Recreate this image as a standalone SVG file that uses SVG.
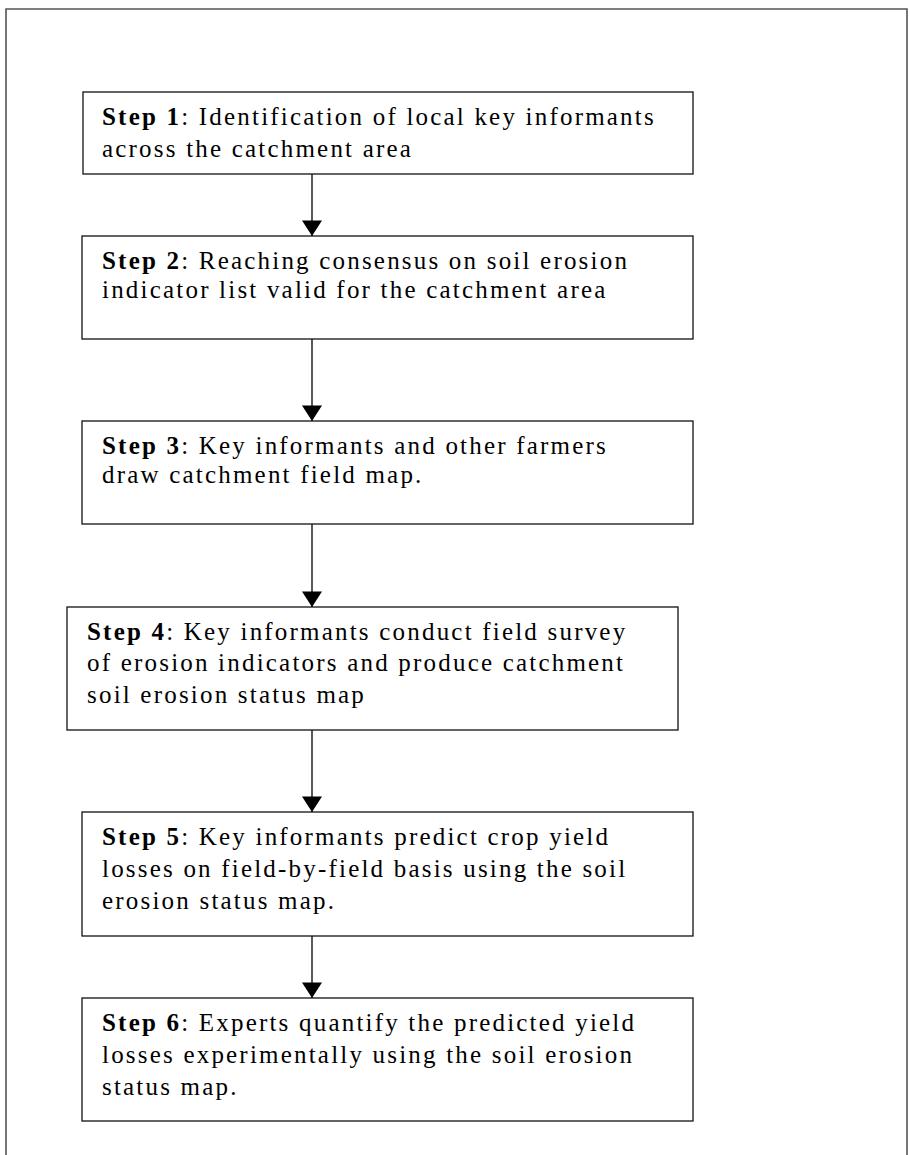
<svg xmlns="http://www.w3.org/2000/svg" width="910" height="1155" viewBox="0 0 910 1155">
<style>
.box{fill:#fff;stroke:#111;stroke-width:1.3}
.frame{fill:none;stroke:#555;stroke-width:1.6}
.t{font-family:"Liberation Serif","Times New Roman",serif;font-size:25px;letter-spacing:2.2px;fill:#000}
.b{font-weight:bold}
.con{stroke:#000;stroke-width:1.3;fill:none}
</style>
<defs>
<marker id="ah" markerUnits="userSpaceOnUse" markerWidth="24" markerHeight="20" refX="22" refY="11" orient="auto" viewBox="0 0 24 22">
<path d="M5,0 L22,11 L5,22 Z" fill="#000"/>
</marker>
</defs>
<rect width="910" height="1155" fill="#fff"/>
<path class="frame" d="M6,1155 V9 H907 V1155"/>
<g id="connectors">
<line class="con" x1="312" y1="174" x2="312" y2="236" marker-end="url(#ah)"/>
<line class="con" x1="312" y1="339" x2="312" y2="421" marker-end="url(#ah)"/>
<line class="con" x1="312" y1="524" x2="312" y2="607" marker-end="url(#ah)"/>
<line class="con" x1="312" y1="730" x2="312" y2="812" marker-end="url(#ah)"/>
<line class="con" x1="312" y1="936" x2="312" y2="998" marker-end="url(#ah)"/>
</g>
<g id="step1">
<rect class="box" x="83" y="92" width="610" height="82"/>
<text class="t" x="102" y="125"><tspan class="b">Step 1</tspan>: Identification of local key informants</text>
<text class="t" x="102" y="157">across the catchment area</text>
</g>
<g id="step2">
<rect class="box" x="82" y="236" width="611" height="103"/>
<text class="t" x="102" y="269"><tspan class="b">Step 2</tspan>: Reaching consensus on soil erosion</text>
<text class="t" x="102" y="298">indicator list valid for the catchment area</text>
</g>
<g id="step3">
<rect class="box" x="82" y="421" width="611" height="103"/>
<text class="t" x="102" y="454"><tspan class="b">Step 3</tspan>: Key informants and other farmers</text>
<text class="t" x="102" y="483">draw catchment field map.</text>
</g>
<g id="step4">
<rect class="box" x="67" y="607" width="611" height="123"/>
<text class="t" x="87" y="640"><tspan class="b">Step 4</tspan>: Key informants conduct field survey</text>
<text class="t" x="87" y="671">of erosion indicators and produce catchment</text>
<text class="t" x="87" y="703">soil erosion status map</text>
</g>
<g id="step5">
<rect class="box" x="82" y="812" width="611" height="124"/>
<text class="t" x="102" y="845"><tspan class="b">Step 5</tspan>: Key informants predict crop yield</text>
<text class="t" x="102" y="877">losses on field-by-field basis using the soil</text>
<text class="t" x="102" y="909">erosion status map.</text>
</g>
<g id="step6">
<rect class="box" x="82" y="998" width="611" height="123"/>
<text class="t" x="102" y="1031"><tspan class="b">Step 6</tspan>: Experts quantify the predicted yield</text>
<text class="t" x="102" y="1063">losses experimentally using the soil erosion</text>
<text class="t" x="102" y="1095">status map.</text>
</g>
</svg>
